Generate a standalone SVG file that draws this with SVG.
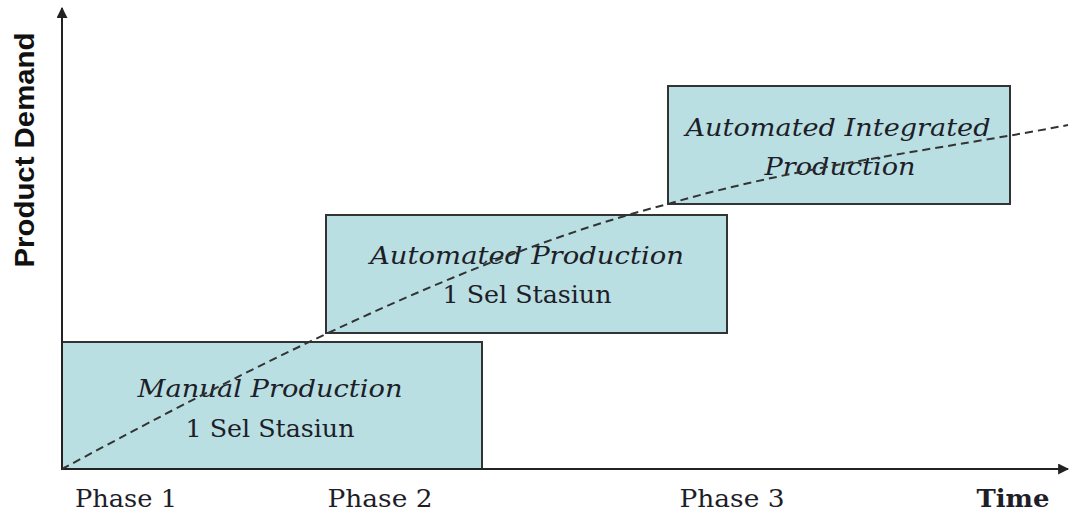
<svg xmlns="http://www.w3.org/2000/svg" width="1072" height="513" viewBox="0 0 1072 513">
<style>
.box{fill:#b9dfe3;stroke:#333;stroke-width:2}
.t{font-family:"DejaVu Serif","Liberation Serif",serif;font-size:25px;fill:#1e1e28;text-anchor:middle}
.i{font-style:italic}
.ax{stroke:#222;stroke-width:2;fill:none}
</style>
<defs>
<marker id="ah" viewBox="0 0 10 10" refX="9" refY="5" markerWidth="5.5" markerHeight="5.5" orient="auto" markerUnits="strokeWidth">
<path d="M0,0 L10,5 L0,10 z" fill="#222"/>
</marker>
</defs>
<rect width="1072" height="513" fill="#fff"/>
<g id="manual">
<rect class="box" x="62" y="342" width="420" height="127"/>
<text class="t i" x="270" y="397" textLength="265" lengthAdjust="spacingAndGlyphs">Manual Production</text>
<text class="t" x="270" y="437" textLength="169" lengthAdjust="spacingAndGlyphs">1 Sel Stasiun</text>
</g>
<g id="automated">
<rect class="box" x="326" y="215" width="401" height="118"/>
<text class="t i" x="527" y="264" textLength="314" lengthAdjust="spacingAndGlyphs">Automated Production</text>
<text class="t" x="527" y="303" textLength="169" lengthAdjust="spacingAndGlyphs">1 Sel Stasiun</text>
</g>
<g id="integrated">
<rect class="box" x="668" y="86" width="342" height="118"/>
<text class="t i" x="838" y="136" textLength="305" lengthAdjust="spacingAndGlyphs">Automated Integrated</text>
<text class="t i" x="840" y="175" textLength="151" lengthAdjust="spacingAndGlyphs">Production</text>
</g>
<g id="connectors">
<path class="ax" d="M62,470 L62,8" marker-end="url(#ah)"/>
<path class="ax" d="M61,469 L1068,469" marker-end="url(#ah)"/>
<path d="M62,469 C200,395 450,260 668,204 C800,165 950,148 1068,125" fill="none" stroke="#333" stroke-width="2" stroke-dasharray="8,5"/>
</g>
<g id="labels">
<text class="t" x="126" y="507" textLength="102" lengthAdjust="spacingAndGlyphs">Phase 1</text>
<text class="t" x="380" y="507" textLength="105" lengthAdjust="spacingAndGlyphs">Phase 2</text>
<text class="t" x="732" y="507" textLength="105" lengthAdjust="spacingAndGlyphs">Phase 3</text>
<text class="t" x="1013" y="507" font-weight="bold" textLength="73" lengthAdjust="spacingAndGlyphs">Time</text>
<text x="0" y="0" transform="translate(34,150) rotate(-90)" font-family="Liberation Sans, Arial, sans-serif" font-weight="bold" font-size="28" fill="#111" text-anchor="middle" textLength="235" lengthAdjust="spacingAndGlyphs">Product Demand</text>
</g>
</svg>
